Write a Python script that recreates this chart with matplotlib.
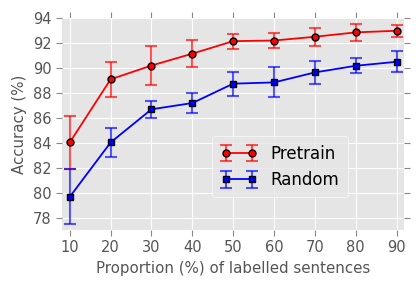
"""Accuracy vs proportion of labelled sentences"""

import matplotlib
matplotlib.use("Agg")
from matplotlib import pyplot as plt

plt.style.use("ggplot")

proportion = [10, 20, 30, 40, 50, 60, 70, 80, 90]
pretrain_acc = [84.05, 89.1, 90.2, 91.15, 92.15, 92.2, 92.5, 92.85, 92.98]
pretrain_err = [2.1, 1.4, 1.55, 1.1, 0.6, 0.6, 0.7, 0.65, 0.5]
random_acc = [79.7, 84.05, 86.7, 87.2, 88.75, 88.85, 89.65, 90.18, 90.5]
random_err = [2.2, 1.15, 0.67, 0.8, 0.97, 1.2, 0.95, 0.6, 0.83]

fig = plt.figure(figsize=(4.16, 2.91), dpi=100)
ax = fig.add_axes([62 / 416, 1 - 230 / 291, 342 / 416, 212 / 291])

ax.errorbar(proportion, pretrain_acc, yerr=pretrain_err, color="red", ecolor=(1, 0, 0, 0.65),
            marker="o", markersize=5, markeredgecolor="black", markerfacecolor="red",
            linewidth=1.3, elinewidth=1.5, capsize=4, capthick=1.5, label="Pretrain")
ax.errorbar(proportion, random_acc, yerr=random_err, color="blue", ecolor=(0, 0, 1, 0.65),
            marker="s", markersize=5, markeredgecolor="black", markerfacecolor="blue",
            linewidth=1.3, elinewidth=1.5, capsize=4, capthick=1.5, label="Random")

ax.set_xlim(8.1, 91.8)
ax.set_ylim(77.05, 94)
ax.set_xticks(proportion)
ax.set_yticks(range(78, 95, 2))
ax.tick_params(axis="both", labelsize=10.5, labelcolor="#555555", color="#888888",
               top=True, right=True, direction="out", length=4)
ax.set_xlabel("Proportion (%) of labelled sentences", fontsize=10.8, color="#555555")
ax.set_ylabel("Accuracy (%)", fontsize=10.8, color="#555555")
for s in ax.spines.values():
    s.set_visible(False)

leg = ax.legend(loc="center", bbox_to_anchor=(280 / 416, 1 - 167 / 291),
                bbox_transform=fig.transFigure, fontsize=12, frameon=True,
                numpoints=2, handlelength=2.2, borderpad=0.5)
leg.get_frame().set_facecolor("#e5e5e5")
leg.get_frame().set_edgecolor("white")

fig.savefig("out.png", dpi=100)
